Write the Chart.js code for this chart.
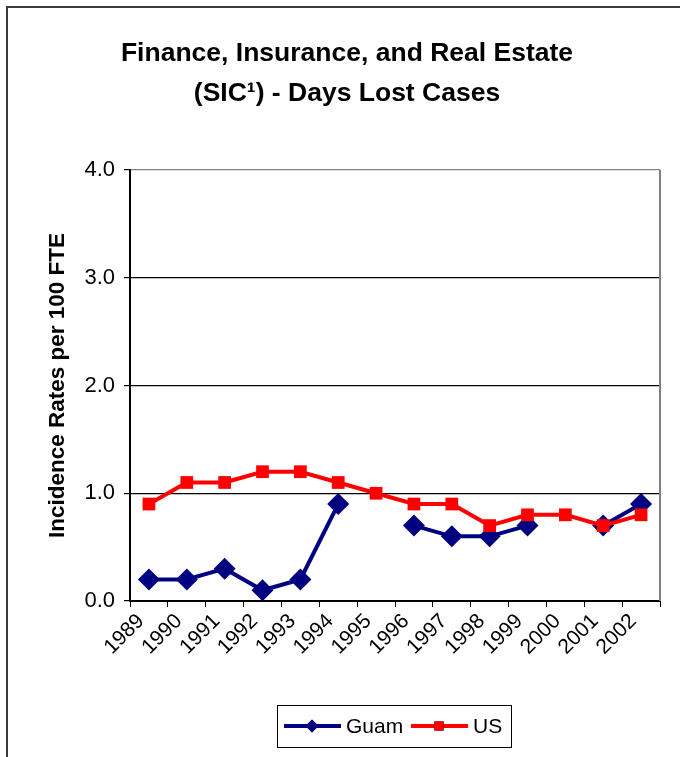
<!DOCTYPE html>
<html>
<head>
<meta charset="utf-8">
<script src="https://cdn.jsdelivr.net/npm/chart.js@4/dist/chart.umd.min.js"></script>
<style>
  html, body { margin: 0; padding: 0; background: #fff; }
  #wrap { position: relative; width: 680px; height: 757px; }
</style>
</head>
<body>
<div id="wrap"><canvas id="fireChart" width="680" height="757"></canvas></div>
<script>
// данные
const years = ['1989', '1990', '1991', '1992', '1993', '1994', '1995',
  '1996', '1997', '1998', '1999', '2000', '2001', '2002'];
const guamRates = [0.2, 0.2, 0.3, 0.1, 0.2, 0.9, null, 0.7, 0.6, 0.6, 0.7, null, 0.7, 0.9];
const usRates = [0.9, 1.1, 1.1, 1.2, 1.2, 1.1, 1.0, 0.9, 0.9, 0.7, 0.8, 0.8, 0.7, 0.8];
const yTicks = [0, 1, 2, 3, 4];

const FONT = "'Liberation Sans', Arial, sans-serif";

// рамка, правая граница области построения и легенда
const decorPlugin = {
  id: 'decor',
  afterLayout(chart) {
    // заголовок в оригинале чуть правее центра
    const t = chart.titleBlock;
    if (t) { t.left += 13; t.right += 13; }
  },
  beforeDraw(chart) {
    const c = chart.ctx;
    c.save();
    c.fillStyle = '#fff';
    c.fillRect(0, 0, chart.width, chart.height);
    c.restore();
  },
  afterDraw(chart) {
    const c = chart.ctx;
    const area = chart.chartArea;
    c.save();
    // правая граница
    c.strokeStyle = '#808080';
    c.lineWidth = 2;
    c.beginPath();
    c.moveTo(area.right, area.top);
    c.lineTo(area.right, area.bottom);
    c.stroke();

    // внешняя рамка
    c.fillStyle = '#3a3a3a';
    c.fillRect(6, 6, chart.width - 6, 2);
    c.fillRect(6, 6, 2, chart.height - 6);

    // легенда
    const lx = 277, ly = 705, lw = 234, lh = 42;
    c.strokeStyle = '#000';
    c.lineWidth = 1;
    c.strokeRect(lx + 0.5, ly + 0.5, lw, lh);
    const cy = ly + lh / 2;
    const items = [
      { ds: chart.data.datasets[1], x: 284 },
      { ds: chart.data.datasets[0], x: 411 }
    ];
    c.font = '21px ' + FONT;
    c.textBaseline = 'middle';
    c.textAlign = 'left';
    items.forEach(it => {
      c.strokeStyle = it.ds.borderColor;
      c.lineWidth = 4;
      c.beginPath();
      c.moveTo(it.x, cy);
      c.lineTo(it.x + 57, cy);
      c.stroke();
      Chart.helpers.drawPoint(c, {
        pointStyle: it.ds.pointStyle,
        radius: 6.5,
        borderWidth: 0
      }, it.x + 28, cy);
      c.fillStyle = it.ds.pointBackgroundColor;
      c.fill();
      c.fillStyle = '#000';
      c.fillText(it.ds.label, it.x + 62, cy + 1);
    });
    c.restore();
  }
};

const ctx = document.getElementById('fireChart').getContext('2d');
const fireChart = new Chart(ctx, {
  type: 'line',
  data: {
    labels: years,
    datasets: [{
      label: 'US',
      data: usRates,
      borderColor: '#ff0000',
      backgroundColor: '#ff0000',
      pointBackgroundColor: '#ff0000',
      pointBorderColor: '#ff0000',
      pointStyle: 'rect',
      pointRadius: 9,
      pointBorderWidth: 0,
      borderWidth: 4,
      tension: 0,
      order: 0
    }, {
      label: 'Guam',
      data: guamRates,
      borderColor: '#000080',
      backgroundColor: '#000080',
      pointBackgroundColor: '#000080',
      pointBorderColor: '#000080',
      pointStyle: 'rectRot',
      pointRadius: 11,
      pointBorderWidth: 0,
      borderWidth: 4,
      tension: 0,
      spanGaps: false,
      order: 1
    }]
  },
  options: {
    responsive: false,
    animation: false,
    layout: { padding: { left: 8, right: 20, top: 0, bottom: 0 } },
    plugins: {
      legend: { display: false },
      tooltip: { enabled: false },
      title: {
        display: true,
        text: ['Finance, Insurance, and Real Estate', '(SIC\u00b9) - Days Lost Cases'],
        color: '#000',
        font: { family: FONT, size: 26.5, weight: 'bold', lineHeight: 1.51 },
        padding: { top: 34, bottom: 56 }
      }
    },
    scales: {
      x: {
        offset: true,
        grid: {
          offset: true,
          drawOnChartArea: false,
          color: '#000',
          tickColor: '#000',
          tickLength: 6
        },
        border: { color: '#000', width: 2 },
        ticks: {
          color: '#000',
          font: { family: FONT, size: 21 },
          minRotation: 45,
          maxRotation: 45,
          padding: 2,
          labelOffset: -8,
          autoSkip: false
        },
        afterFit(scale) { scale.height = 156; }
      },
      y: {
        min: 0,
        max: 4,
        afterBuildTicks(scale) { scale.ticks = yTicks.map(v => ({ value: v })); },
        grid: {
          color: ctx => (ctx.tick && ctx.tick.value === 4 ? '#808080' : '#000'),
          lineWidth: 1.2,
          tickColor: '#000',
          tickLength: 6
        },
        border: { color: '#000', width: 2 },
        ticks: {
          color: '#000',
          font: { family: FONT, size: 22 },
          padding: 9,
          callback: v => Number(v).toFixed(1)
        },
        title: {
          display: true,
          text: 'Incidence Rates per 100 FTE',
          color: '#000',
          font: { family: FONT, size: 22.5, weight: 'bold' },
          padding: { top: 36, bottom: 0 }
        },
        afterFit(scale) { scale.width = 122; }
      }
    }
  },
  plugins: [decorPlugin]
});
</script>
</body>
</html>
